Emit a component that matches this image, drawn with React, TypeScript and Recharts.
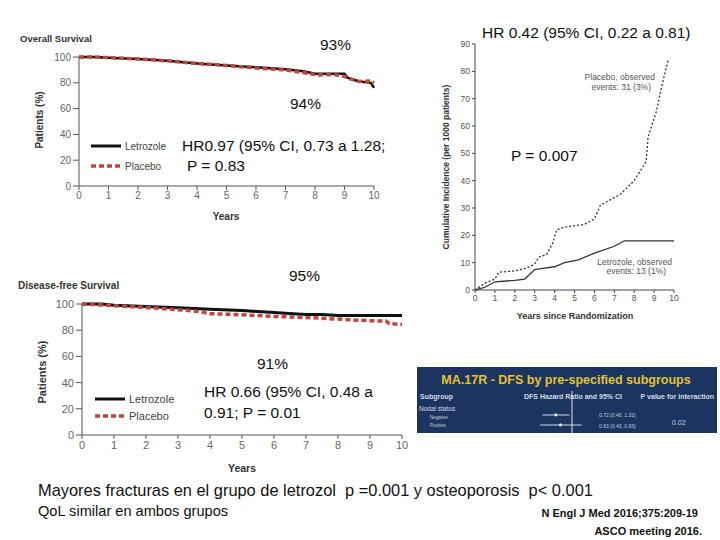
import React from "react";
import {
  LineChart,
  Line,
  XAxis,
  YAxis,
  ScatterChart,
  Scatter,
  ErrorBar,
  ReferenceLine,
} from "recharts";

// shared year ticks
const yearTicks = [0, 1, 2, 3, 4, 5, 6, 7, 8, 9, 10];
const pctTicks = [0, 20, 40, 60, 80, 100];

// Overall survival
const osLetYears = [0, 0.5, 1, 2, 3, 4, 5, 6, 7, 7.6, 8, 9, 9.1, 9.5, 9.9, 10];
const osLetPct = [100, 100, 99.5, 98.5, 97, 95, 93.5, 92, 90.5, 89, 87, 87, 84, 81, 80, 76];
const osPlaYears = [0, 0.5, 1, 2, 3, 4, 5, 6, 7, 7.6, 8.1, 8.6, 9, 9.2, 9.5, 9.9, 10];
const osPlaPct = [100, 100, 99.5, 98.5, 97, 95, 93.5, 91.5, 90, 88, 86, 86.5, 85, 83, 81, 81.5, 80];

// Disease-free survival
const dfsLetYears = [0, 0.6, 1, 2, 3, 4, 5, 6, 6.6, 7, 7.5, 8, 9, 10];
const dfsLetPct = [100, 100, 99, 98, 97.2, 96, 95, 93.5, 92.5, 92, 92, 91.3, 91.2, 91.2];
const dfsPlaYears = [0, 0.5, 1, 2, 3, 3.6, 4, 5, 6, 7, 8, 9, 9.5, 9.6, 10];
const dfsPlaPct = [100, 99.5, 98.7, 97.4, 95.6, 94.5, 92.6, 91.8, 90.5, 89.7, 88.5, 87.2, 87, 85, 84.4];

// Cumulative incidence (per 1000 patients)
const ciTicks = [0, 10, 20, 30, 40, 50, 60, 70, 80, 90];
const ciPlaYears = [0, 0.5, 1, 1.2, 2, 2.6, 3, 3.2, 3.6, 3.9, 4.1, 4.5, 5.5, 6, 6.3, 7.3, 8, 8.6, 8.7, 9.1, 9.4, 9.7];
const ciPlaRate = [0, 2.5, 4, 6.5, 7, 8, 9.5, 12, 13, 17, 22, 23, 24, 26, 31, 35, 40, 47, 56, 65, 75, 84];
const ciLetYears = [0, 0.5, 1, 2, 2.5, 3, 3.5, 4, 4.5, 5.2, 6, 7, 7.5, 10];
const ciLetRate = [0, 1, 3, 3.5, 4, 7.5, 8, 8.5, 10, 11, 13.5, 16, 18, 18];

// forest plot (nodal status)
const subgroups = ["Negative", "Positive"];
const hrValues = [0.72, 0.63];
const ciLow = [0.4, 0.43];
const ciHigh = [1.32, 0.93];

const pts = (xs: number[], ys: number[]) => xs.map((x, i) => ({ x, y: ys[i] }));

const forestData = subgroups.map((g, i) => ({
  group: g,
  hr: hrValues[i],
  err: [hrValues[i] - ciLow[i], ciHigh[i] - hrValues[i]],
}));

const SANS = "'Liberation Sans', Arial, sans-serif";

function T({
  x,
  y,
  size = 15.5,
  color = "#111",
  bold = false,
  align = "left",
  family = SANS,
  children,
}: any) {
  const tx = align === "center" ? "translateX(-50%)" : align === "right" ? "translateX(-100%)" : "none";
  return (
    <div
      style={{
        position: "absolute",
        left: x,
        top: y - size / 2,
        fontSize: size,
        lineHeight: 1,
        color,
        fontWeight: bold ? "bold" : "normal",
        fontFamily: family,
        whiteSpace: "nowrap",
        transform: tx,
      }}
    >
      {children}
    </div>
  );
}

function VLabel({ x, y, size, children }: any) {
  return (
    <div
      style={{
        position: "absolute",
        left: x,
        top: y,
        fontSize: size,
        lineHeight: 1,
        fontWeight: "bold",
        color: "#333",
        fontFamily: SANS,
        whiteSpace: "nowrap",
        transform: "translate(-50%,-50%) rotate(-90deg)",
      }}
    >
      {children}
    </div>
  );
}

function LegendRow({ x, y, dashed, text, size }: any) {
  return (
    <div style={{ position: "absolute", left: x, top: y - 7, height: 14, display: "flex", alignItems: "center" }}>
      <svg width={32} height={6}>
        <line
          x1={0}
          y1={3}
          x2={30}
          y2={3}
          stroke={dashed ? "#c0453a" : "#111"}
          strokeWidth={dashed ? 3.5 : 3}
          strokeDasharray={dashed ? "5 3" : undefined}
        />
      </svg>
      <span style={{ fontSize: size, color: "#444", fontFamily: SANS, marginLeft: 2 }}>{text}</span>
    </div>
  );
}

function Survival({ left, top, width, height, margin, letData, plaData, tickSize, letWidth }: any) {
  const tick = { fill: "#666", fontSize: tickSize, fontFamily: SANS };
  return (
    <div style={{ position: "absolute", left, top }}>
      <LineChart width={width} height={height} margin={margin}>
        <XAxis
          type="number"
          dataKey="x"
          domain={[0, 10]}
          ticks={yearTicks}
          height={30}
          tick={tick}
          tickSize={4}
          stroke="#555"
          interval={0}
        />
        <YAxis
          type="number"
          dataKey="y"
          domain={[0, 100]}
          ticks={pctTicks}
          width={30}
          tick={tick}
          tickSize={6}
          stroke="#555"
          interval={0}
        />
        <Line
          data={letData}
          dataKey="y"
          stroke="#111"
          strokeWidth={letWidth}
          dot={false}
          isAnimationActive={false}
        />
        <Line
          data={plaData}
          dataKey="y"
          stroke="#c0453a"
          strokeWidth={3.5}
          strokeDasharray="5 3"
          dot={false}
          isAnimationActive={false}
        />
      </LineChart>
    </div>
  );
}

const tinyDot = (p: any) => <circle cx={p.cx} cy={p.cy} r={1.4} fill="#ffffff" />;

export default function App() {
  const tick3 = { fill: "#555", fontSize: 8.5, fontFamily: SANS };
  return (
    <div
      style={{
        position: "absolute",
        left: 0,
        top: 0,
        width: 720,
        height: 540,
        background: "#fff",
        overflow: "hidden",
        fontFamily: SANS,
      }}
    >
      {/* Overall survival */}
      <T x={20} y={39} size={9.5} bold color="#333">Overall Survival</T>
      <Survival
        left={0}
        top={40}
        width={390}
        height={190}
        margin={{ top: 17, right: 16, bottom: 14, left: 49 }}
        letData={pts(osLetYears, osLetPct)}
        plaData={pts(osPlaYears, osPlaPct)}
        tickSize={10}
        letWidth={2.5}
      />
      <VLabel x={40} y={120} size={10}>Patients (%)</VLabel>
      <T x={226} y={217} size={10} bold color="#333" align="center">Years</T>
      <LegendRow x={91} y={146} text="Letrozole" size={10} />
      <LegendRow x={91} y={166} dashed text="Placebo" size={10} />

      {/* Disease-free survival */}
      <T x={18} y={286} size={10} bold color="#333">Disease-free Survival</T>
      <Survival
        left={0}
        top={290}
        width={420}
        height={190}
        margin={{ top: 14, right: 18, bottom: 15, left: 52 }}
        letData={pts(dfsLetYears, dfsLetPct)}
        plaData={pts(dfsPlaYears, dfsPlaPct)}
        tickSize={11}
        letWidth={3}
      />
      <VLabel x={42} y={372} size={11}>Patients (%)</VLabel>
      <T x={242} y={468} size={10.5} bold color="#333" align="center">Years</T>
      <LegendRow x={95} y={399} text="Letrozole" size={11} />
      <LegendRow x={95} y={416} dashed text="Placebo" size={11} />

      {/* Cumulative incidence */}
      <div style={{ position: "absolute", left: 420, top: 30 }}>
        <LineChart width={270} height={300} margin={{ top: 14, right: 16, bottom: 15, left: 30 }}>
          <XAxis
            type="number"
            dataKey="x"
            domain={[0, 10]}
            ticks={yearTicks}
            height={25}
            tick={tick3}
            tickSize={3}
            stroke="#444"
            interval={0}
          />
          <YAxis
            type="number"
            dataKey="y"
            domain={[0, 90]}
            ticks={ciTicks}
            width={25}
            tick={tick3}
            tickSize={3}
            stroke="#444"
            interval={0}
          />
          <Line
            data={pts(ciLetYears, ciLetRate)}
            dataKey="y"
            stroke="#333"
            strokeWidth={1.3}
            dot={false}
            isAnimationActive={false}
          />
          <Line
            data={pts(ciPlaYears, ciPlaRate)}
            dataKey="y"
            stroke="#333"
            strokeWidth={1.3}
            strokeDasharray="2 2"
            dot={false}
            isAnimationActive={false}
          />
        </LineChart>
      </div>
      <VLabel x={446} y={167} size={8.5}>Cumulative Incidence (per 1000 patients)</VLabel>
      <T x={575} y={316} size={9} bold color="#333" align="center">Years since Randomization</T>
      <T x={655} y={77} size={8.5} color="#555" align="right">Placebo, observed</T>
      <T x={651} y={87} size={8.5} color="#555" align="right">events: 31 (3%)</T>
      <T x={672} y={262} size={8.5} color="#555" align="right">Letrozole, observed</T>
      <T x={666} y={271} size={8.5} color="#555" align="right">events: 13 (1%)</T>

      {/* big annotations */}
      <T x={320} y={45}>93%</T>
      <T x={290} y={104}>94%</T>
      <T x={182} y={146}>HR0.97 (95% CI, 0.73 a 1.28;</T>
      <T x={187} y={166}>P = 0.83</T>
      <T x={482} y={33}>HR 0.42 (95% CI, 0.22 a 0.81)</T>
      <T x={511} y={156}>P = 0.007</T>
      <T x={289} y={276}>95%</T>
      <T x={257} y={364}>91%</T>
      <T x={204} y={392}>HR 0.66 (95% CI, 0.48 a</T>
      <T x={204} y={413}>0.91; P = 0.01</T>

      {/* subgroup slide */}
      <div style={{ position: "absolute", left: 417, top: 367, width: 300, height: 66, background: "#1b3460" }} />
      <T x={566} y={380} size={12.5} bold color="#e6c230" align="center">MA.17R - DFS by pre-specified subgroups</T>
      <T x={420} y={396} size={7} bold color="#d6dbe6">Subgroup</T>
      <T x={573} y={396} size={7} bold color="#d6dbe6" align="center">DFS Hazard Ratio and 95% CI</T>
      <T x={714} y={396} size={7} bold color="#d6dbe6" align="right">P value for Interaction</T>
      <T x={419} y={409} size={6.5} color="#d6dbe6">Nodal status</T>
      <T x={430} y={418} size={4.5} color="#c9d0dd">{subgroups[0]}</T>
      <T x={430} y={426} size={4.5} color="#c9d0dd">{subgroups[1]}</T>
      <T x={599} y={415} size={5} color="#c9d0dd">0.72 (0.40, 1.32)</T>
      <T x={599} y={426} size={5} color="#c9d0dd">0.63 (0.43, 0.93)</T>
      <T x={672} y={422} size={7} color="#c9d0dd">0.02</T>
      <div style={{ position: "absolute", left: 510, top: 391 }}>
        <ScatterChart width={120} height={42} margin={{ top: 0, right: 9.5, bottom: 0, left: 13.5 }}>
          <XAxis type="number" dataKey="hr" scale="log" domain={[0.25, 4]} allowDataOverflow hide />
          <YAxis type="category" dataKey="group" hide padding={{ top: 19, bottom: 3 }} />
          <ReferenceLine x={1} stroke="#dfe6f0" strokeWidth={1} />
          <Scatter data={forestData} fill="#ffffff" shape={tinyDot} isAnimationActive={false}>
            <ErrorBar dataKey="err" direction="x" stroke="#cfd8e6" width={0} strokeWidth={1} />
          </Scatter>
        </ScatterChart>
      </div>

      {/* footer */}
      <T x={38} y={490} size={16.4}>
        Mayores fracturas en el grupo de letrozol&nbsp; p =0.001 y osteoporosis&nbsp; p&lt; 0.001
      </T>
      <T x={38} y={511} size={14.6}>QoL similar en ambos grupos</T>
      <T x={698} y={513} size={11} bold align="right">N Engl J Med 2016;375:209-19</T>
      <T x={702} y={531} size={11} bold align="right">ASCO meeting 2016.</T>
    </div>
  );
}
